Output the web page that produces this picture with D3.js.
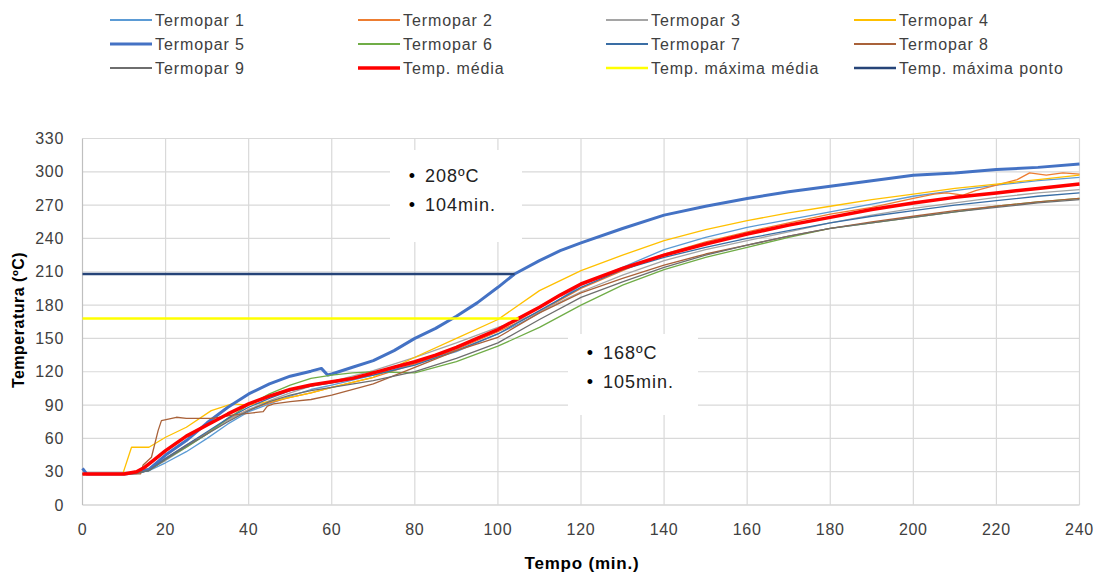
<!DOCTYPE html>
<html>
<head>
<meta charset="utf-8">
<script src="https://cdn.jsdelivr.net/npm/d3@7"></script>
<style>
    body { margin: 0; background: #fff; }
    text { font-family: "Liberation Sans", Arial, sans-serif; }
</style>
</head>
<body>
<div id="chart"></div>
<script>
// Data: [tempo (min.), temperatura (ºC)]
var termopar1 = [[0,28],[10,28],[13,29],[16,31],[20,38],[25,48],[30,60],[35,73],[40,84],[45,91],[50,98],[55,104],[60,108],[70,117],[80,127],[90,138],[100,154],[105,163],[110,173],[120,198],[130,214],[140,230],[150,241],[160,250],[170,257],[180,264],[190,271],[200,278],[210,283],[220,288],[230,292],[240,295]];
var termopar2 = [[0,28],[10,28],[13,30],[16,33],[20,42],[25,54],[30,65],[35,77],[40,86],[45,92],[50,97],[55,101],[60,106],[70,115],[80,127],[90,140],[100,156],[105,165],[110,174],[120,195],[130,211],[140,226],[150,237],[160,246],[170,254],[180,262],[190,268],[200,276],[205,280],[208,281],[212,279],[215,283],[220,288],[225,293],[228,299],[232,297],[236,299],[240,298]];
var termopar3 = [[0,28],[10,28],[13,30],[16,32],[20,40],[25,52],[30,64],[35,76],[40,86],[45,94],[50,101],[55,107],[60,111],[70,121],[80,133],[90,146],[100,160],[105,166],[110,174],[120,192],[130,207],[140,220],[150,230],[160,238],[170,246],[180,254],[190,261],[200,267],[210,272],[220,277],[230,281],[240,284]];
var termopar4 = [[0,28],[9.7,28],[11.8,52],[16,52],[20,61],[25,70],[31,85],[36,91],[40,90],[45,93],[50,97],[55,101],[60,106],[70,115],[80,133],[90,150],[100,167],[110,193],[120,211],[130,225],[140,238],[150,248],[160,256],[170,263],[180,269],[190,275],[200,280],[210,285],[220,289],[230,293],[240,297]];
var termopar5 = [[0,33],[1,28],[10,28],[13,29],[16,32],[20,45],[25,58],[30,74],[35,88],[40,100],[45,109],[50,116],[55,120.5],[57.5,123],[59,117],[60,118],[65,124],[70,130],[75,139],[80,150],[85,159],[90,170],[95,182],[100,196],[104,208],[110,220],[115,229],[120,236],[130,249],[140,261],[150,269],[160,276],[170,282],[180,287],[190,292],[200,297],[210,299],[220,302],[230,304],[240,307]];
var termopar6 = [[0,28],[10,28],[13,29],[16,31],[20,41],[25,52],[30,64],[35,78],[40,90],[45,100],[50,108],[55,114],[60,117],[65,119],[70,120],[80,119],[90,129],[100,143],[110,160],[120,180],[130,198],[140,212],[150,223],[160,232],[170,241],[180,249],[190,254],[200,259],[210,264],[220,269],[230,273],[240,276]];
var termopar7 = [[0,28],[10,28],[13,29],[16,31],[20,42],[25,54],[30,66],[35,78],[40,88],[45,96],[50,103],[55,107],[60,110],[70,117],[80,126],[90,139],[100,154],[110,175],[120,196],[130,212],[140,223],[150,232],[160,240],[170,247],[180,254],[190,260],[200,265],[210,270],[220,274],[230,278],[240,281]];
var termopar8 = [[0,28],[14,28],[14.6,36],[16.6,43],[18.2,67],[19,76],[22.6,79],[25,78],[31,78],[33,79],[36,81],[41,83],[43.5,84],[44.5,89],[46,91],[50,93],[55,95],[60,99],[70,109],[80,124],[90,139],[100,151],[110,173],[120,191],[130,204],[140,216],[150,226],[160,234],[170,242],[180,249],[190,255],[200,260],[210,265],[220,269],[230,273],[240,276]];
var termopar9 = [[0,28],[10,28],[13,29],[16,31],[20,41],[25,53],[30,64],[35,75],[40,85],[45,93],[50,99],[55,103],[60,106],[70,112],[80,120],[90,132],[100,146],[110,167],[120,187],[130,201],[140,214],[150,225],[160,234],[170,242],[180,249],[190,254],[200,259],[210,264],[220,268],[230,272],[240,275]];
var tempMedia = [[0,28],[10,28],[13,30],[15,34],[17,40],[20,49],[25,62],[30,72],[35,82],[40,91],[45,98],[50,104],[55,108],[60,111],[65,114],[70,119],[75,124],[80,129],[85,135],[90,142],[95,150],[100,158],[105,168],[110,178],[115,189],[120,199],[130,213],[140,225],[150,235],[160,244],[170,252],[180,259],[190,266],[200,272],[210,277],[220,281],[230,285],[240,289]];
var tempMaxMedia = [[0,168],[105,168]];
var tempMaxPonto = [[0,208],[104,208]];

var seriesNames = ["Termopar 1", "Termopar 2", "Termopar 3", "Termopar 4", "Termopar 5", "Termopar 6",
    "Termopar 7", "Termopar 8", "Termopar 9", "Temp. média", "Temp. máxima média", "Temp. máxima ponto"];
var seriesData = [termopar1, termopar2, termopar3, termopar4, termopar5, termopar6,
    termopar7, termopar8, termopar9, tempMedia, tempMaxMedia, tempMaxPonto];
var seriesColors = ["#5B9BD5", "#ED7D31", "#A5A5A5", "#FFC000", "#4472C4", "#70AD47",
    "#3A6EA5", "#A9623A", "#6E6E6E", "#FF0000", "#FFFF00", "#264478"];
var seriesWidths = [1.3, 1.3, 1.3, 1.3, 3, 1.3, 1.3, 1.3, 1.3, 3.5, 2.5, 2.5];

var xTicks = [0, 20, 40, 60, 80, 100, 120, 140, 160, 180, 200, 220, 240];
var yTicks = [0, 30, 60, 90, 120, 150, 180, 210, 240, 270, 300, 330];

var labels = [
    { lines: ["208ºC", "104min."], box: [390, 150, 132, 92], x: 412, y: 176 },
    { lines: ["168ºC", "105min."], box: [568, 334, 130, 81], x: 590, y: 353 }
];

var width = 1101, height = 572;
var x = d3.scaleLinear().domain([0, 240]).range([82.5, 1079.5]);
var y = d3.scaleLinear().domain([0, 330]).range([505, 138.5]);

var svg = d3.select("#chart").append("svg")
    .attr("width", width)
    .attr("height", height);

// Grid
svg.append("g")
    .selectAll("line")
    .data(yTicks)
    .enter()
    .append("line")
    .attr("x1", x(0)).attr("x2", x(240))
    .attr("y1", function (d) { return y(d); })
    .attr("y2", function (d) { return y(d); })
    .attr("stroke", function (d) { return d == 0 ? "#BFBFBF" : "#D9D9D9"; })
    .attr("stroke-width", 1.2);

svg.append("g")
    .selectAll("line")
    .data(xTicks)
    .enter()
    .append("line")
    .attr("x1", function (d) { return x(d); })
    .attr("x2", function (d) { return x(d); })
    .attr("y1", y(0)).attr("y2", y(330))
    .attr("stroke", function (d) { return d == 0 ? "#BFBFBF" : "#D9D9D9"; })
    .attr("stroke-width", 1.2);

// Axes labels
svg.append("g")
    .selectAll("text")
    .data(yTicks)
    .enter()
    .append("text")
    .attr("x", 64)
    .attr("y", function (d) { return y(d); })
    .attr("dy", "0.35em")
    .attr("text-anchor", "end")
    .attr("font-size", "16px")
    .attr("letter-spacing", "0.7px")
    .attr("fill", "#404040")
    .text(function (d) { return d; });

svg.append("g")
    .selectAll("text")
    .data(xTicks)
    .enter()
    .append("text")
    .attr("x", function (d) { return x(d); })
    .attr("y", 529)
    .attr("dy", "0.35em")
    .attr("text-anchor", "middle")
    .attr("font-size", "16px")
    .attr("letter-spacing", "0.7px")
    .attr("fill", "#404040")
    .text(function (d) { return d; });

svg.append("text")
    .attr("x", 582).attr("y", 563)
    .attr("dy", "0.35em")
    .attr("text-anchor", "middle")
    .attr("font-size", "17px")
    .attr("font-weight", "bold")
    .attr("letter-spacing", "0.8px")
    .text("Tempo (min.)");

svg.append("text")
    .attr("transform", "translate(18,320) rotate(-90)")
    .attr("dy", "0.35em")
    .attr("text-anchor", "middle")
    .attr("font-size", "16px")
    .attr("font-weight", "bold")
    .attr("letter-spacing", "0.5px")
    .text("Temperatura (ºC)");

// Lines
var line = d3.line()
    .x(function (d) { return x(d[0]); })
    .y(function (d) { return y(d[1]); });

svg.append("g")
    .selectAll("path")
    .data(seriesData)
    .enter()
    .append("path")
    .attr("d", line)
    .attr("fill", "none")
    .attr("stroke", function (d, i) { return seriesColors[i]; })
    .attr("stroke-width", function (d, i) { return seriesWidths[i]; })
    .attr("stroke-linejoin", "round");

// Data labels
var lab = svg.append("g")
    .selectAll("g")
    .data(labels)
    .enter()
    .append("g");

lab.append("rect")
    .attr("x", function (d) { return d.box[0]; })
    .attr("y", function (d) { return d.box[1]; })
    .attr("width", function (d) { return d.box[2]; })
    .attr("height", function (d) { return d.box[3]; })
    .attr("fill", "#fff");

lab.each(function (d) {
    var g = d3.select(this);
    d.lines.forEach(function (t, i) {
        g.append("text")
            .attr("x", d.x).attr("y", d.y + i * 29)
            .attr("dy", "0.35em")
            .attr("text-anchor", "middle")
            .attr("font-size", "18px")
            .text("•");
        g.append("text")
            .attr("x", d.x + 13).attr("y", d.y + i * 29)
            .attr("dy", "0.35em")
            .attr("font-size", "18px")
            .attr("letter-spacing", "1px")
            .attr("fill", "#222")
            .text(t);
    });
});

// Legend
var legend = svg.append("g")
    .selectAll("g")
    .data(seriesNames)
    .enter()
    .append("g")
    .attr("transform", function (d, i) {
        return "translate(" + (110 + (i % 4) * 248) + "," + (20 + Math.floor(i / 4) * 24) + ")";
    });

legend.append("line")
    .attr("x1", 0).attr("x2", 42)
    .attr("stroke", function (d, i) { return seriesColors[i]; })
    .attr("stroke-width", function (d, i) { return Math.max(2, seriesWidths[i]); });

legend.append("text")
    .attr("x", 45)
    .attr("dy", "0.35em")
    .attr("font-size", "16px")
    .attr("letter-spacing", "0.9px")
    .attr("fill", "#404040")
    .text(function (d) { return d; });
</script>
</body>
</html>
